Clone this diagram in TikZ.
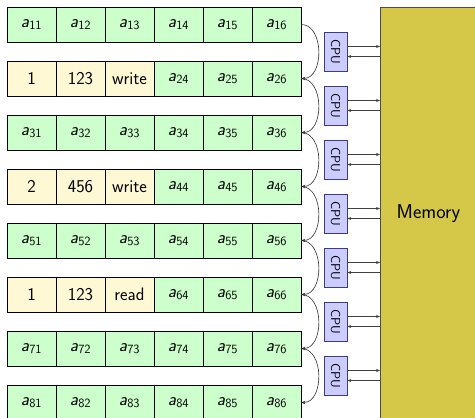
\documentclass[tikz,border=0pt]{standalone}
\usepackage{graphicx}
\usetikzlibrary{arrows.meta}
\renewcommand{\familydefault}{\sfdefault}
\definecolor{cellgreen}{RGB}{204,255,204}
\definecolor{cellyellow}{RGB}{255,248,212}
\definecolor{memfill}{RGB}{213,200,72}
\definecolor{cpufill}{RGB}{204,204,255}
\definecolor{cpuedge}{RGB}{60,60,130}
\newcommand{\ael}[1]{\textit{a}\textsubscript{#1}}
\tikzset{
  cell/.style={draw=black, line width=0.6pt, minimum width=49pt, minimum height=35pt, inner sep=0pt, font=\fontsize{18}{20}\selectfont},
  gcell/.style={cell, fill=cellgreen},
  ycell/.style={cell, fill=cellyellow},
  cpubox/.style={draw=cpuedge, fill=cpufill, line width=0.6pt, minimum width=23pt, minimum height=39pt, inner sep=0pt, font=\fontsize{13}{14}\selectfont},
  membox/.style={draw=black!70, fill=memfill, line width=0.8pt, minimum width=96pt, minimum height=412pt, inner sep=0pt, anchor=north west, font=\fontsize{20}{22}\selectfont},
  link/.style={draw=black!80, line width=0.6pt, -{Stealth[length=4pt,width=3.5pt]}},
  bus/.style={draw=black!75, line width=0.6pt, -{Stealth[length=4pt,width=3pt]}}
}
\begin{document}
\begin{tikzpicture}[x=1pt,y=-1pt]
\useasboundingbox (0,0) rectangle (475,418);
% memory
\node[membox] (mem) at (380,7) {Memory};
% rows
\foreach \r in {1,3,5,7,8}{
  \foreach \c in {1,...,6}{
    \node[gcell] (c\r\c) at ({31.5+49*(\c-1)},{24.5+54*(\r-1)}) {\ael{\r\c}};
  }
}
% row 2
\node[ycell] (c21) at (31.5,78.5) {1};
\node[ycell] (c22) at (80.5,78.5) {123};
\node[ycell] (c23) at (129.5,78.5) {write};
\node[gcell] (c24) at (178.5,78.5) {\ael{24}};
\node[gcell] (c25) at (227.5,78.5) {\ael{25}};
\node[gcell] (c26) at (276.5,78.5) {\ael{26}};
% row 4
\node[ycell] (c41) at (31.5,186.5) {2};
\node[ycell] (c42) at (80.5,186.5) {456};
\node[ycell] (c43) at (129.5,186.5) {write};
\node[gcell] (c44) at (178.5,186.5) {\ael{44}};
\node[gcell] (c45) at (227.5,186.5) {\ael{45}};
\node[gcell] (c46) at (276.5,186.5) {\ael{46}};
% row 6
\node[ycell] (c61) at (31.5,294.5) {1};
\node[ycell] (c62) at (80.5,294.5) {123};
\node[ycell] (c63) at (129.5,294.5) {read};
\node[gcell] (c64) at (178.5,294.5) {\ael{64}};
\node[gcell] (c65) at (227.5,294.5) {\ael{65}};
\node[gcell] (c66) at (276.5,294.5) {\ael{66}};
% curved links and cpus
\foreach \k [evaluate=\k as \n using int(\k+1)] in {1,...,7}{
  \draw[link] (c\k6.east) .. controls +(23,0) and +(23,0) .. (c\n6.east);
  \node[cpubox] (p\k) at (335.5,{51.5+54*(\k-1)}) {\rotatebox{-90}{CPU}};
  \coordinate (u\k) at ([yshift=5pt]p\k.east);
  \coordinate (d\k) at ([yshift=-5pt]p\k.east);
  \draw[bus] (u\k) -- (u\k -| mem.west);
  \draw[bus] (d\k -| mem.west) -- (d\k);
}
\end{tikzpicture}
\end{document}
